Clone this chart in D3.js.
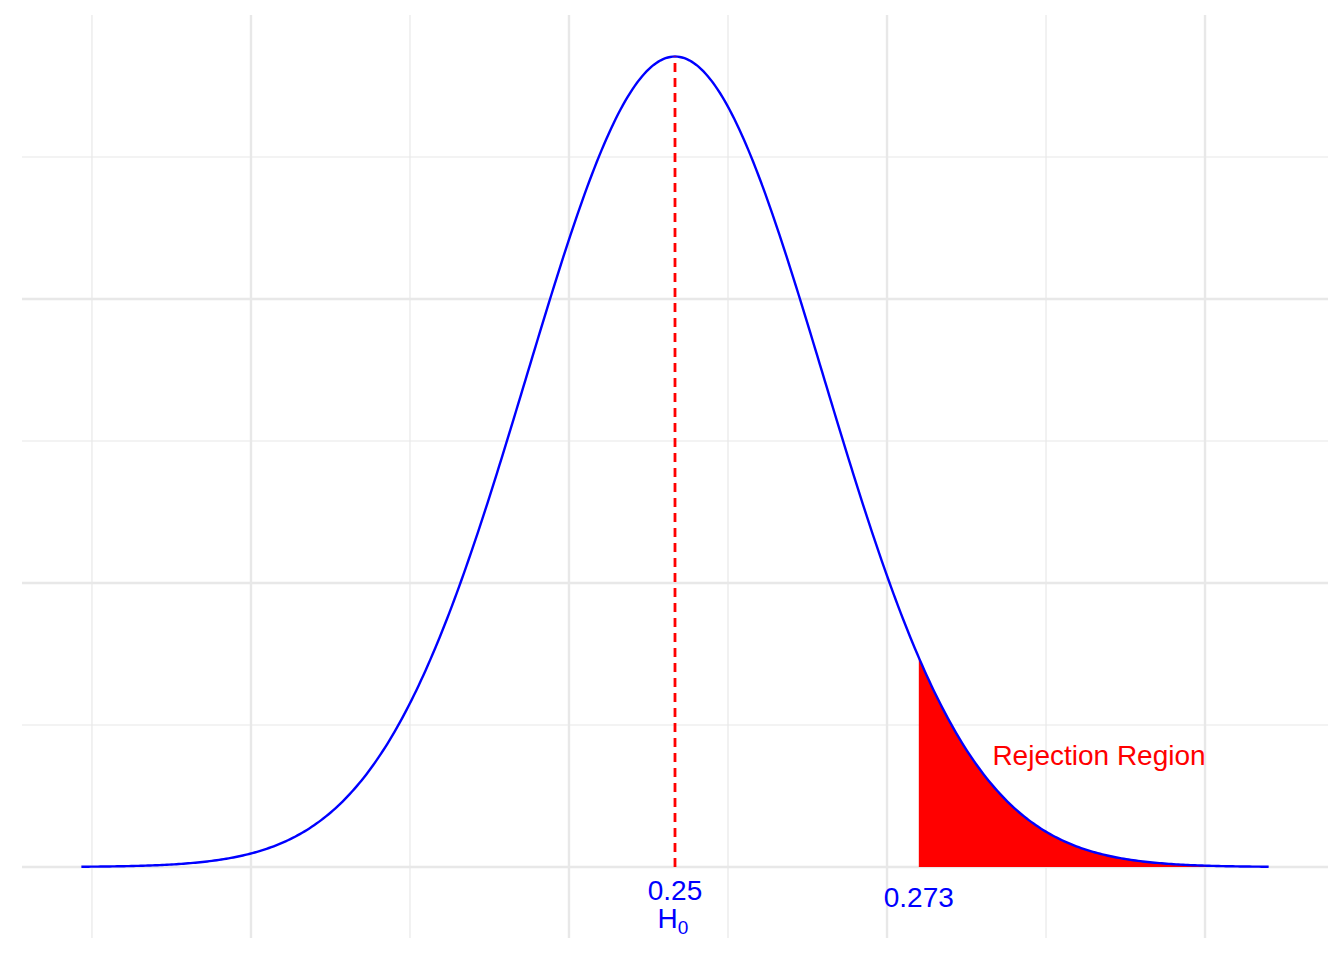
<!DOCTYPE html>
<html>
<head>
<meta charset="utf-8">
<script src="https://cdn.jsdelivr.net/npm/d3@7"></script>
<style>
  body { margin: 0; background: #fff; }
  text { font-family: "Liberation Sans", Arial, sans-serif; }
</style>
</head>
<body>
<svg id="chart" width="1344" height="960"></svg>
<script>
// parameters of the sampling distribution under H0
var nullMean = 0.25;
var nullSd = 0.01398;
var critical = 0.273;
var curveRange = [0.194, 0.306];

var xMajor = [0.21, 0.24, 0.27, 0.30];
var xMinor = [0.195, 0.225, 0.255, 0.285];
var yMajor = [0, 10, 20];
var yMinor = [5, 15, 25];

var svg = d3.select("#chart");

var x = d3.scaleLinear().domain([0.1884, 0.3116]).range([22, 1328]);
var y = d3.scaleLinear().domain([-2.5, 30.0]).range([938, 15]);

function dens(v) {
  var z = (v - nullMean) / nullSd;
  return Math.exp(-z * z / 2) / (nullSd * Math.sqrt(2 * Math.PI));
}

var pts = d3.range(0, 501).map(function(i) {
  var v = curveRange[0] + (curveRange[1] - curveRange[0]) * i / 500;
  return {x: v, y: dens(v)};
});

// grid
var grid = svg.append("g");
grid.selectAll(".vmin").data(xMinor).enter().append("line")
  .attr("x1", x).attr("x2", x).attr("y1", 15).attr("y2", 938)
  .attr("stroke", "#e8e8e8").attr("stroke-width", 1.2);
grid.selectAll(".vmaj").data(xMajor).enter().append("line")
  .attr("x1", x).attr("x2", x).attr("y1", 15).attr("y2", 938)
  .attr("stroke", "#e8e8e8").attr("stroke-width", 2.4);
grid.selectAll(".hmin").data(yMinor).enter().append("line")
  .attr("y1", y).attr("y2", y).attr("x1", 22).attr("x2", 1328)
  .attr("stroke", "#e8e8e8").attr("stroke-width", 1.2);
grid.selectAll(".hmaj").data(yMajor).enter().append("line")
  .attr("y1", y).attr("y2", y).attr("x1", 22).attr("x2", 1328)
  .attr("stroke", "#e8e8e8").attr("stroke-width", 2.4);

// rejection region
var tail = pts.filter(function(d) { return d.x >= critical; });
tail.unshift({x: critical, y: dens(critical)});
svg.append("path").datum(tail)
  .attr("fill", "#ff0000")
  .attr("d", d3.area().x(function(d) { return x(d.x); })
    .y0(y(0)).y1(function(d) { return y(d.y); }));

// curve
svg.append("path").datum(pts)
  .attr("fill", "none").attr("stroke", "#0000ff").attr("stroke-width", 2.4)
  .attr("d", d3.line().x(function(d) { return x(d.x); }).y(function(d) { return y(d.y); }));

// H0 line
svg.append("line")
  .attr("x1", x(nullMean)).attr("x2", x(nullMean))
  .attr("y1", y(0)).attr("y2", y(dens(nullMean)))
  .attr("stroke", "#ff0000").attr("stroke-width", 2.8)
  .attr("stroke-dasharray", "9,6");

// labels
svg.append("text").attr("x", x(nullMean)).attr("y", 900)
  .attr("text-anchor", "middle").attr("fill", "#0000ff").attr("font-size", 28)
  .text("0.25");
var h = svg.append("text").attr("x", x(nullMean) - 2).attr("y", 928)
  .attr("text-anchor", "middle").attr("fill", "#0000ff").attr("font-size", 28);
h.append("tspan").text("H");
h.append("tspan").attr("font-size", 19).attr("dy", 6).text("0");
svg.append("text").attr("x", x(critical)).attr("y", 907)
  .attr("text-anchor", "middle").attr("fill", "#0000ff").attr("font-size", 28)
  .text("0.273");
svg.append("text").attr("x", 1099).attr("y", 765)
  .attr("text-anchor", "middle").attr("fill", "#ff0000").attr("font-size", 28)
  .text("Rejection Region");
</script>
</body>
</html>
